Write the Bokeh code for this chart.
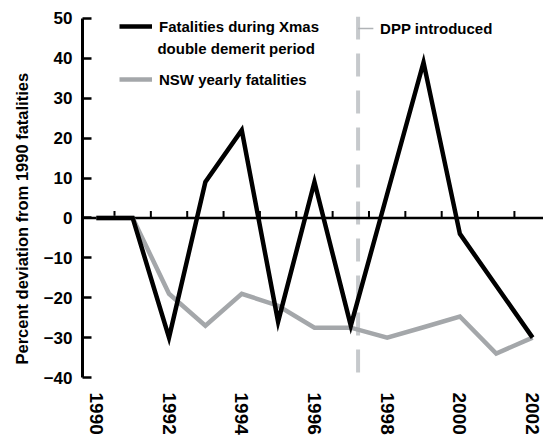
import math
from bokeh.plotting import figure
from bokeh.models import (Range1d, FixedTicker, Span, Label, Legend,
                          LegendItem, Arrow, Title)
from bokeh.embed import file_html
from bokeh.resources import INLINE

# ---- data ----
years = [1990, 1991, 1992, 1993, 1994, 1995, 1996, 1997, 1998, 1999, 2000, 2001, 2002]
xmas_dev = [0, 0, -30, 9, 22, -26, 9, -27, 6, 39, -4, -17, -30]
nsw_dev = [0, 0, -19, -27, -19, -22, -27.5, -27.5, -30, -27.4, -24.7, -34, -30]
label_years = [1990, 1992, 1994, 1996, 1998, 2000, 2002]
year_bounds = [y + 0.5 for y in years]
y_ticks = [-40, -30, -20, -10, 0, 10, 20, 30, 40, 50]
dpp_year = 1997.2
xmas_label_1 = "Fatalities during Xmas"
xmas_label_2 = "double demerit period"
nsw_label = "NSW yearly fatalities"
dpp_label = "DPP introduced"
y_title = "Percent deviation from 1990 fatalities"

FONT = "Liberation Sans"

p = figure(width=543, height=437, output_backend="svg", toolbar_location=None,
           x_range=Range1d(1989.62, 2002.3), y_range=Range1d(-41, 50.5),
           min_border_left=75, min_border_right=0, min_border_top=16,
           min_border_bottom=55)
p.outline_line_color = None
p.grid.visible = False
p.background_fill_color = "white"
p.border_fill_color = "white"

# DPP introduced marker
p.add_layout(Span(location=dpp_year, dimension="height", line_color="#c6c9cc",
                  line_width=4, line_dash="23 14", level="underlay"))

# zero line with year-boundary ticks
p.add_layout(Span(location=0, dimension="width", line_color="black",
                  line_width=2.5, level="underlay"))
p.ray(x=year_bounds, y=[0] * len(year_bounds), length=7, length_units="screen",
      angle=math.pi / 2, line_color="black", line_width=2)

r_nsw = p.line(years, nsw_dev, line_color="#a4a7aa", line_width=4.5,
               line_join="miter")
r_xmas = p.line(years, xmas_dev, line_color="black", line_width=4.5,
                line_join="miter")

# bottom axis: only rotated year labels
xa = p.xaxis[0]
xa.ticker = FixedTicker(ticks=label_years)
xa.axis_line_color = None
xa.major_tick_line_color = None
xa.minor_tick_line_color = None
xa.major_tick_in = 0
xa.major_tick_out = 0
xa.major_label_orientation = "vertical"
xa.major_label_standoff = 11
xa.major_label_text_font = FONT
xa.major_label_text_font_style = "bold"
xa.major_label_text_font_size = "19px"
xa.major_label_text_color = "black"

# y axis
ya = p.yaxis[0]
ya.ticker = FixedTicker(ticks=y_ticks)
ya.bounds = (-40, 50)
ya.axis_line_color = "black"
ya.axis_line_width = 3
ya.major_tick_line_color = "black"
ya.major_tick_line_width = 2.5
ya.major_tick_in = 9
ya.major_tick_out = 0
ya.minor_tick_line_color = None
ya.major_label_standoff = 10
ya.major_label_text_font = FONT
ya.major_label_text_font_style = "bold"
ya.major_label_text_font_size = "17px"
ya.major_label_text_color = "black"

# y title as a side title, starting a little above the frame bottom
p.add_layout(Title(text=y_title, align="left", offset=17, standoff=20,
                   text_font=FONT, text_font_style="bold",
                   text_font_size="16.5px", text_color="black"), "left")

# legend
legend = Legend(items=[LegendItem(label=xmas_label_1, renderers=[r_xmas]),
                       LegendItem(label=nsw_label, renderers=[r_nsw])],
                location=(37, 292), padding=0, margin=0,
                border_line_color=None, background_fill_alpha=0,
                glyph_width=33, glyph_height=20, label_height=20,
                label_standoff=7, spacing=33,
                label_text_font=FONT, label_text_font_style="bold",
                label_text_font_size="15px", label_text_color="black")
p.add_layout(legend)
p.add_layout(Label(x=1991.68, y=42.5, text=xmas_label_2,
                   text_baseline="middle", text_align="left",
                   text_font=FONT, text_font_style="bold",
                   text_font_size="15px", text_color="black"))

# DPP annotation
p.add_layout(Arrow(start=None, end=None, x_start=dpp_year, y_start=47.5,
                   x_end=dpp_year + 0.42, y_end=47.5,
                   line_color="#b0b3b6", line_width=1.5))
p.add_layout(Label(x=dpp_year, y=47.5, x_offset=22, text=dpp_label,
                   text_baseline="middle", text_font=FONT,
                   text_font_style="bold", text_font_size="15px",
                   text_color="black"))

open("out.html", "w").write(file_html(p, INLINE))
